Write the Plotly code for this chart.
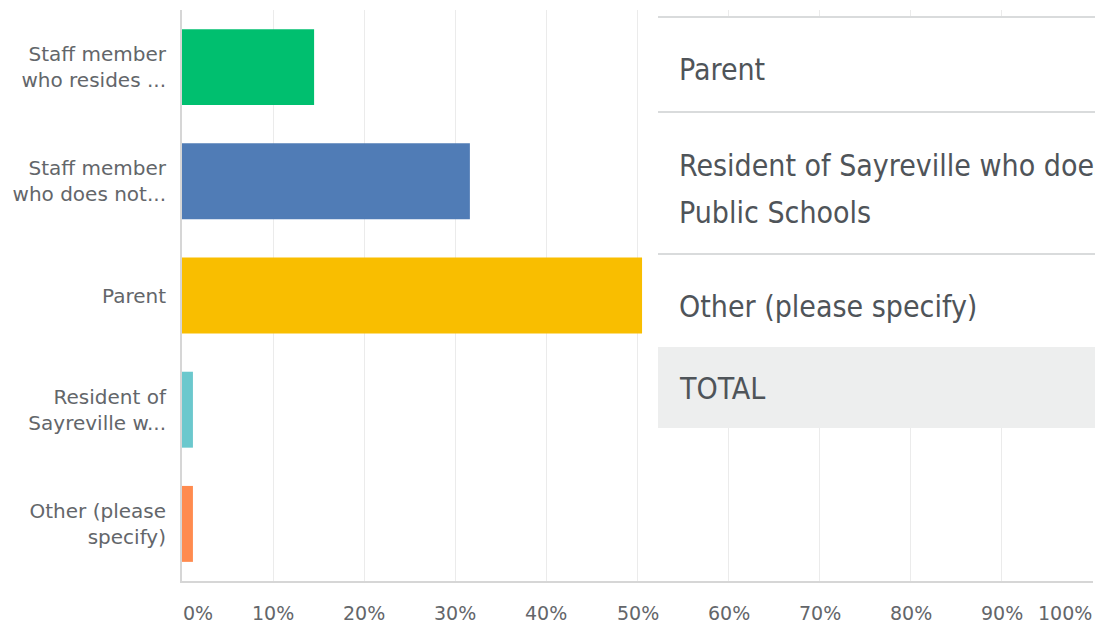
import plotly.graph_objects as go

categories = ["Staff member<br>who resides ...", "Staff member<br>who does not...", "Parent",
              "Resident of<br>Sayreville w...", "Other (please<br>specify)"]
percent = [14.5, 31.6, 50.5, 1.2, 1.2]
colors = ["#00bf6f", "#507cb6", "#f9be00", "#6bc8cd", "#ff8b4f"]
tick_vals = [0, 10, 20, 30, 40, 50, 60, 70, 80, 90, 100]
tick_text = ["0%", "10%", "20%", "30%", "40%", "50%", "60%", "70%", "80%", "90%", "100%"]
table_rows = [["Parent"], ["Resident of Sayreville who does", "Public Schools"],
              ["Other (please specify)"], ["TOTAL"]]

W, H = 1095, 626
L, R, T, B = 182, 2, 10, 45
ph = H - T - B

def py(pix):
    return (H - B - pix) / ph

fig = go.Figure(go.Bar(
    y=categories, x=percent, orientation="h",
    marker=dict(color=colors, line=dict(width=0)),
    hoverinfo="skip",
))

label_font = dict(family="DejaVu Sans", size=20, color="#63666a")

fig.update_layout(
    width=W, height=H,
    margin=dict(l=L, r=R, t=T, b=B),
    plot_bgcolor="white", paper_bgcolor="white",
    bargap=0.335, showlegend=False,
    xaxis=dict(range=[0, 100], tickvals=tick_vals, showticklabels=False,
               showgrid=True, gridcolor="#ebebeb", gridwidth=1,
               zeroline=False, showline=True, linecolor="#d6d6d6", linewidth=2,
               fixedrange=True),
    yaxis=dict(autorange="reversed", showgrid=False, zeroline=False,
               showline=True, linecolor="#d6d6d6", linewidth=2,
               tickfont=label_font, ticks="", ticklabelstandoff=10,
               fixedrange=True),
)

# x tick labels as annotations (first left-aligned, last right-aligned)
for i, (v, t) in enumerate(zip(tick_vals, tick_text)):
    anchor = "left" if i == 0 else ("right" if i == len(tick_vals) - 1 else "center")
    fig.add_annotation(x=v, y=py(613), xref="x", yref="paper", text=t,
                       showarrow=False, xanchor=anchor, yanchor="middle", borderpad=0,
                       font=dict(family="DejaVu Sans", size=19, color="#63666a"))

# overlaid table
x0 = (658 - L) / (W - L - R)
x1 = 1.01
fig.add_shape(type="rect", xref="paper", yref="paper", x0=x0, x1=x1,
              y0=py(428), y1=py(17), fillcolor="white", line=dict(width=0), layer="above")
fig.add_shape(type="rect", xref="paper", yref="paper", x0=x0, x1=x1,
              y0=py(428), y1=py(347), fillcolor="#edeeee", line=dict(width=0), layer="above")
for ypix in [17, 112, 254]:
    fig.add_shape(type="line", xref="paper", yref="paper", x0=x0, x1=x1,
                  y0=py(ypix), y1=py(ypix), line=dict(color="#d9dbdc", width=2), layer="above")

tx = (678 - L) / (W - L - R)
row_y = [[70], [165, 212], [307], [388]]
for lines, ys in zip(table_rows, row_y):
    for text, ypix in zip(lines, ys):
        fig.add_annotation(x=tx, y=py(ypix), xref="paper", yref="paper", text=text,
                           showarrow=False, xanchor="left", yanchor="middle", align="left",
                           borderpad=0,
                           font=dict(family="DejaVu Sans Condensed", size=30,
                                     color="#4f5459"))

fig.write_html("out.html", config={"displayModeBar": False},
               post_script="document.body.style.margin='0';document.body.style.overflow='hidden';")
